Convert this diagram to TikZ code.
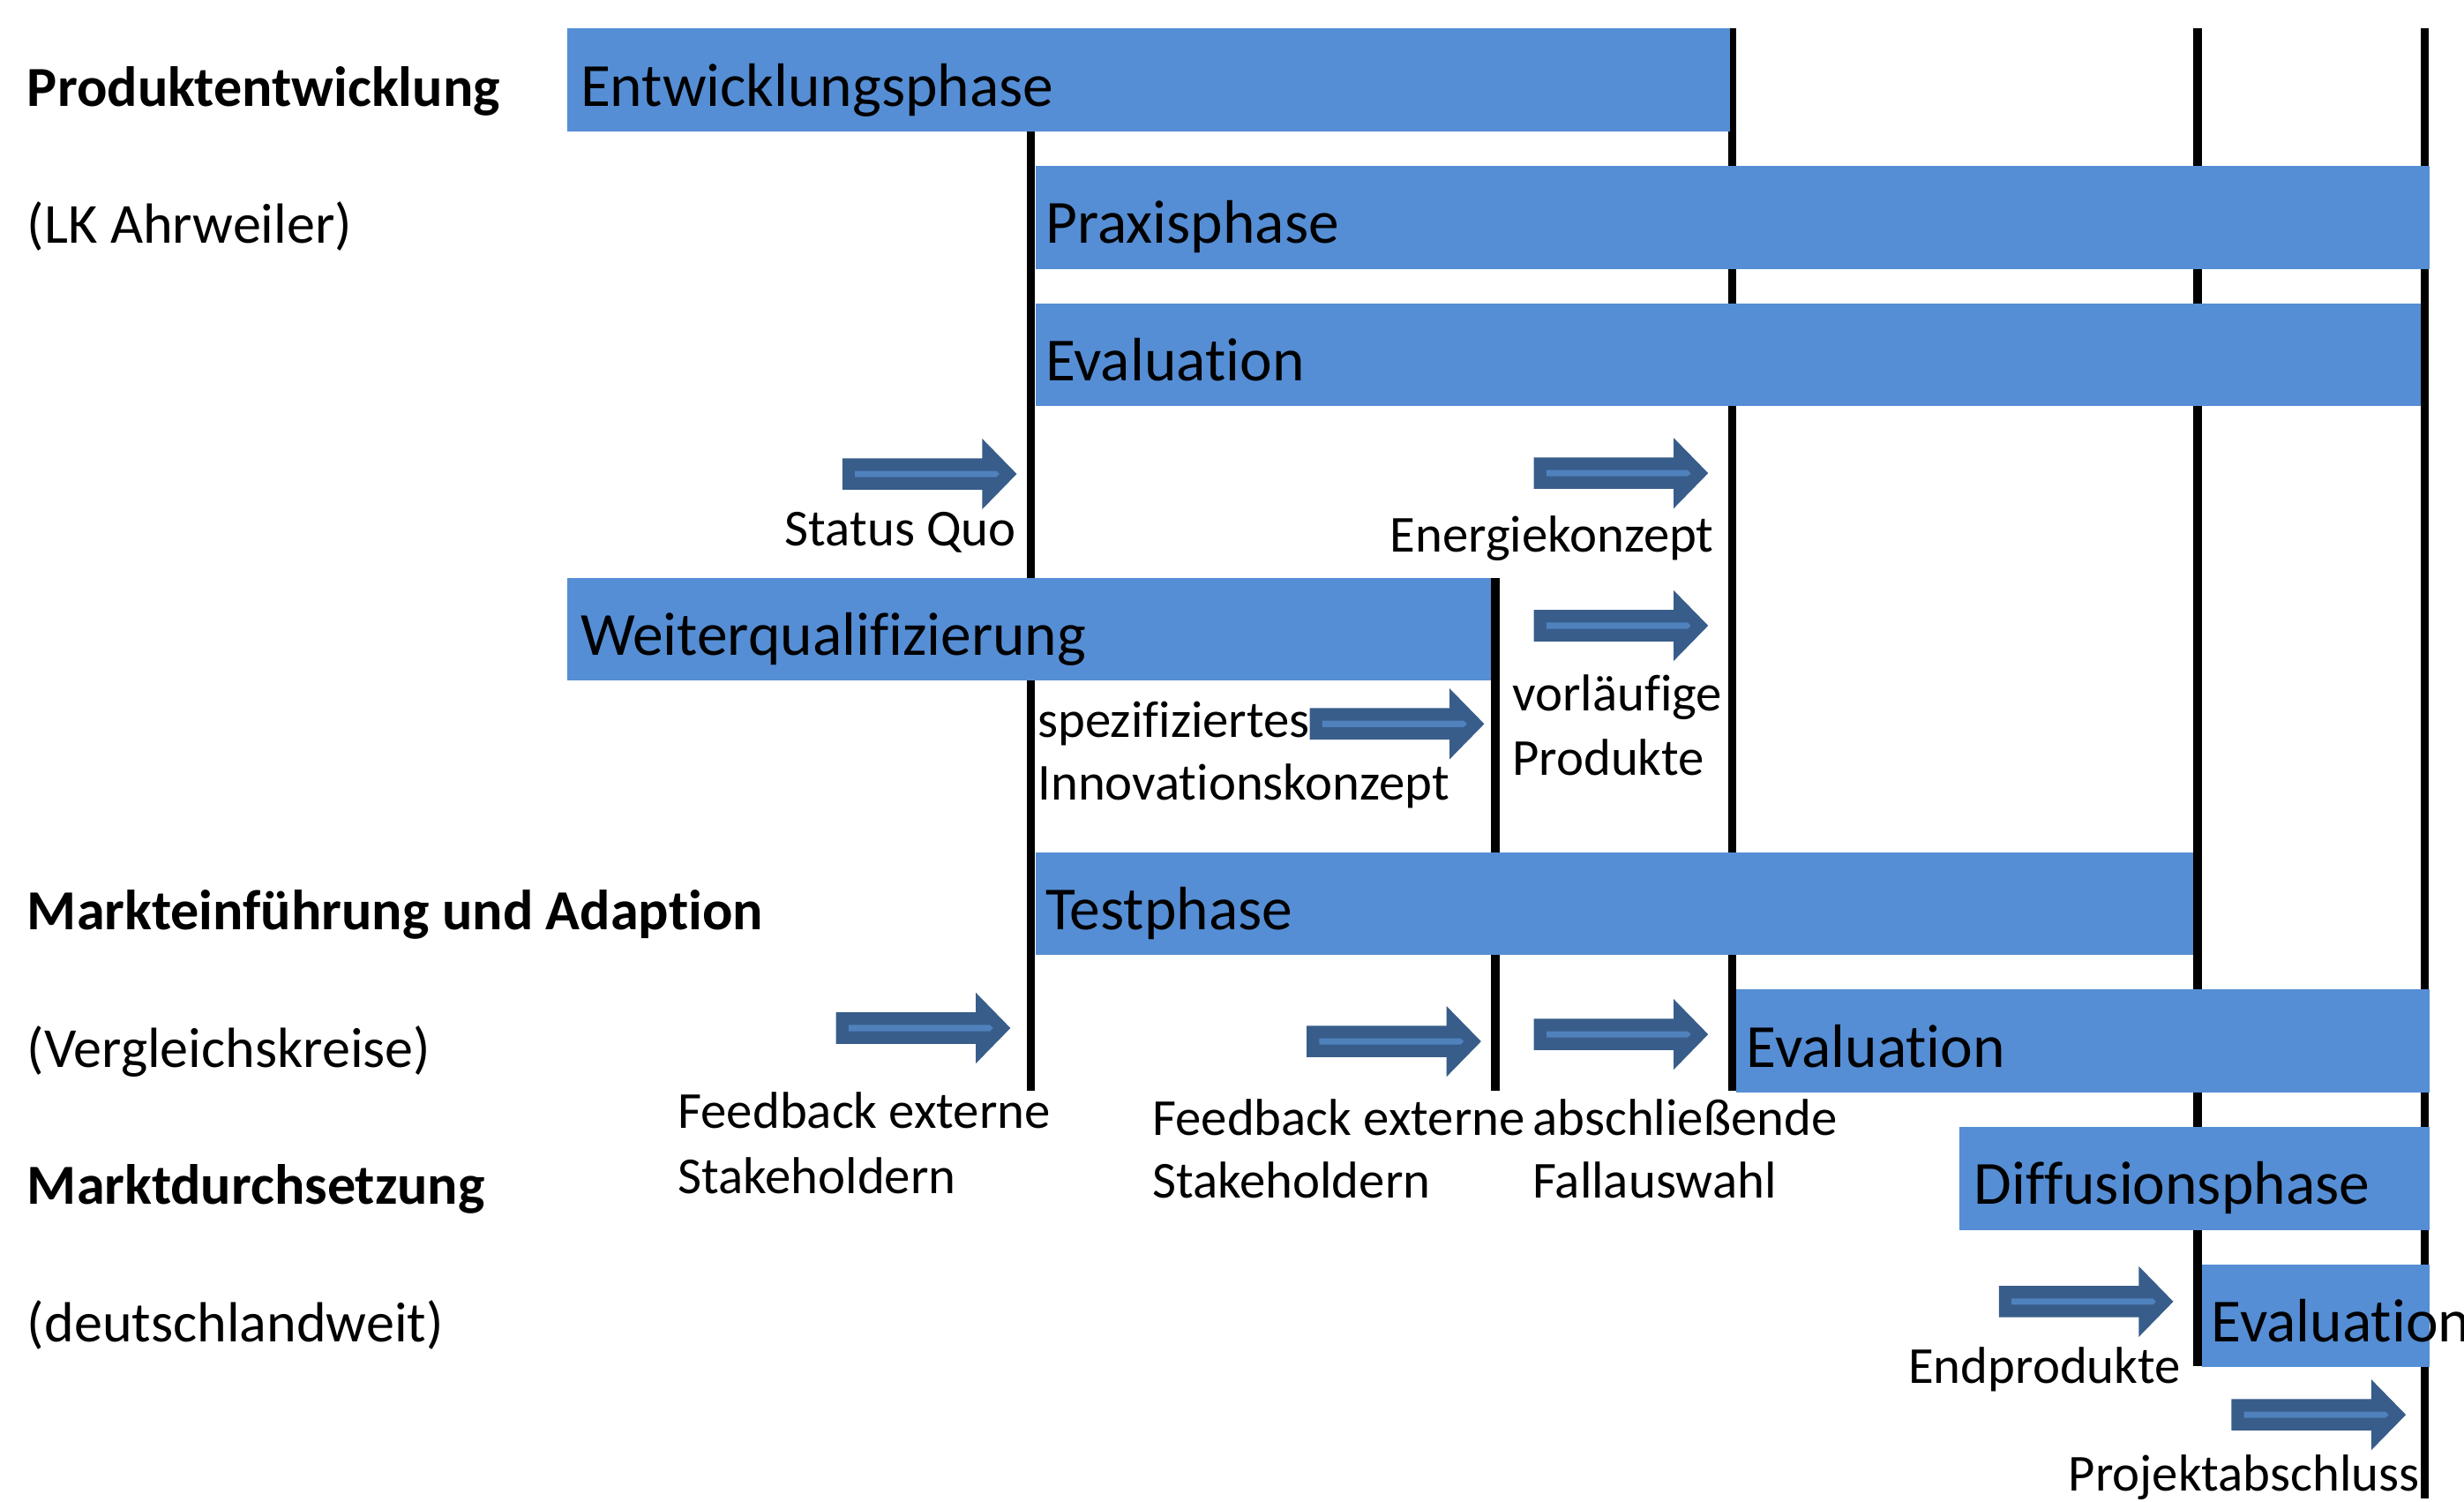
\documentclass[tikz,border=0pt]{standalone}
\usepackage{fontspec}
\setmainfont{Carlito}[Ligatures=NoCommon]
\usepackage{xcolor}
\usepackage{tikz}

\definecolor{barblue}{RGB}{85,142,213}
\definecolor{arrowdark}{RGB}{56,93,138}
\definecolor{arrowlight}{RGB}{79,129,189}

\tikzset{
  bar/.style={fill=barblue},
  milestone/.style={line width=2.75pt, black},
  phaselabel/.style={anchor=base west, inner sep=0pt, font=\fontsize{19.5}{23}\selectfont},
  sidelabel/.style={anchor=base west, inner sep=0pt, font=\fontsize{18}{22}\selectfont},
  sidehead/.style={sidelabel, font=\fontsize{18}{22}\selectfont\bfseries},
  notelabel/.style={inner sep=0pt, font=\fontsize{16.5}{20}\selectfont}
}

% block arrow: tip x, centre y
\newcommand{\phasearrow}[2]{%
  \fill[arrowdark] (#1-111,#2-10) -- (#1-22,#2-10) -- (#1-22,#2-22.5) -- (#1,#2)
    -- (#1-22,#2+22.5) -- (#1-22,#2+10) -- (#1-111,#2+10) -- cycle;
  \fill[arrowlight] (#1-103,#2-2) -- (#1-13,#2-2) -- (#1-11,#2) -- (#1-13,#2+2)
    -- (#1-103,#2+2) -- cycle;
}

\begin{document}
\begin{tikzpicture}[x=0.5pt, y=-0.5pt]
  \useasboundingbox (0,0) rectangle (1568,955);
  % Define bar height
  \def\barH{65.5}

  % Draw milestones
  \draw[milestone] (656,83) -- (656,694);
  \draw[milestone] (951.7,367.5) -- (951.7,694);
  \draw[milestone] (1102.3,18.2) -- (1102.3,694);
  \draw[milestone] (1398.5,18.2) -- (1398.5,869);
  \draw[milestone] (1543,18.2) -- (1543,953);

  % Draw bars
  \fill[bar] (361,18.2) rectangle (1101,18.2+\barH);
  \fill[bar] (658.8,105.5) rectangle (1546,105.5+\barH);
  \fill[bar] (658.8,192.9) rectangle (1540.2,192.9+\barH);
  \fill[bar] (361,367.5) rectangle (948.9,367.5+\barH);
  \fill[bar] (658.8,542.2) rectangle (1395.7,542.2+\barH);
  \fill[bar] (1105.1,629.5) rectangle (1546,629.5+\barH);
  \fill[bar] (1247,716.9) rectangle (1546,716.9+\barH);
  \fill[bar] (1401.3,804.2) rectangle (1546,804.2+\barH);

  % Label bars
  \node[phaselabel] (entw) at (369,67.6) {Entwicklungsphase};
  \node[phaselabel] (praxis) at (665,154.9) {Praxisphase};
  \node[phaselabel] (evalA) at (665,242.3) {Evaluation};
  \node[phaselabel] (weiter) at (369,416.9) {Weiterqualifizierung};
  \node[phaselabel] (test) at (665,591.6) {Testphase};
  \node[phaselabel] (evalB) at (1111,678.9) {Evaluation};
  \node[phaselabel] (diff) at (1256,766.2) {Diffusionsphase};
  \node[phaselabel] (evalC) at (1407,853.6) {Evaluation};

  % Label rows
  \node[sidehead] (prod) at (17,67.6) {Produktentwicklung};
  \node[sidelabel] (lk) at (17,154.9) {(LK Ahrweiler)};
  \node[sidehead] (markt) at (17,591.6) {Markteinführung und Adaption};
  \node[sidelabel] (vergl) at (17,678.9) {(Vergleichskreise)};
  \node[sidehead] (durch) at (17,766.2) {Marktdurchsetzung};
  \node[sidelabel] (dtl) at (17,853.6) {(deutschlandweit)};

  % Draw arrows
  \phasearrow{647}{301.5}
  \phasearrow{1087}{301}
  \phasearrow{1087}{398}
  \phasearrow{944.5}{460.5}
  \phasearrow{643}{654}
  \phasearrow{942.5}{662.5}
  \phasearrow{1087}{658}
  \phasearrow{1383}{828}
  \phasearrow{1531}{900}

  % Label arrows
  \node[notelabel, anchor=base east] (status) at (647,347) {Status Quo};
  \node[notelabel, anchor=base east] (energie) at (1091,351) {Energiekonzept};
  \node[notelabel, anchor=base west] (vorl) at (962,452) {vorläufige};
  \node[notelabel, anchor=base west] (prodk) at (962,493) {Produkte};
  \node[notelabel, anchor=base west] (spez) at (660,469) {spezifiziertes};
  \node[notelabel, anchor=base west] (innov) at (660,509) {Innovationskonzept};
  \node[notelabel, anchor=base west] (feedA) at (431,718) {Feedback externe};
  \node[notelabel, anchor=base west] (stakeA) at (431,759) {Stakeholdern};
  \node[notelabel, anchor=base west] (feedB) at (733,722) {Feedback externe};
  \node[notelabel, anchor=base west] (stakeB) at (733,762) {Stakeholdern};
  \node[notelabel, anchor=base west] (absch) at (975,722) {abschließende};
  \node[notelabel, anchor=base west] (fall) at (975,762) {Fallauswahl};
  \node[notelabel, anchor=base east] (endp) at (1388,880) {Endprodukte};
  \node[notelabel, anchor=base east] (proj) at (1540,948.5) {Projektabschluss};
\end{tikzpicture}
\end{document}
